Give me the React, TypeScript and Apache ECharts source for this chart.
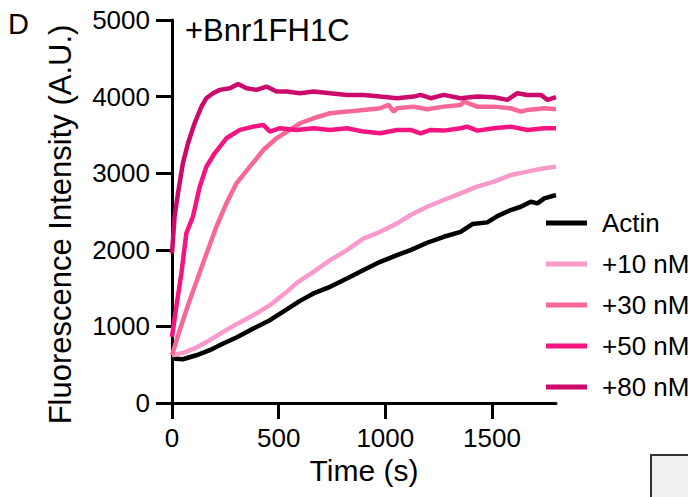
import React, { useEffect, useRef } from "react";
import * as echarts from "echarts";

const FONT = "'Liberation Sans', Arial, Helvetica, sans-serif";

const seriesNames = ["Actin", "+10 nM", "+30 nM", "+50 nM", "+80 nM"];
const seriesColors = ["#000000", "#FA9ACA", "#F76896", "#F51480", "#CC0A6B"];
const xTicks = [0, 500, 1000, 1500];

const actin = [
  [0, 580], [51, 571], [114, 623], [177, 689], [240, 776], [302, 855], [381, 972],
  [459, 1081], [538, 1221], [600, 1333], [663, 1430], [741, 1517], [820, 1626],
  [898, 1735], [976, 1843], [1055, 1931], [1118, 1996], [1196, 2092], [1274, 2170],
  [1353, 2235], [1408, 2336], [1478, 2358], [1525, 2440], [1588, 2519], [1635, 2562],
  [1682, 2628], [1713, 2606], [1745, 2672], [1800, 2715],
];

const nm10 = [
  [0, 624], [51, 654], [114, 724], [177, 820], [240, 928], [302, 1029], [381, 1146],
  [459, 1277], [538, 1451], [585, 1569], [663, 1713], [741, 1865], [820, 1996],
  [898, 2149], [976, 2235], [1055, 2345], [1118, 2454], [1196, 2562], [1274, 2650],
  [1353, 2737], [1431, 2824], [1509, 2889], [1588, 2976], [1666, 3020], [1745, 3064],
  [1800, 3085],
];

const nm30 = [
  [0, 624], [36, 950], [83, 1342], [145, 1822], [208, 2301], [255, 2606], [302, 2868],
  [365, 3085], [428, 3303], [490, 3456], [553, 3565], [600, 3652], [663, 3717],
  [741, 3783], [820, 3804], [898, 3826], [976, 3848], [1015, 3891], [1039, 3804],
  [1055, 3848], [1133, 3869], [1196, 3835], [1274, 3869], [1353, 3891], [1368, 3935],
  [1431, 3869], [1509, 3869], [1588, 3848], [1635, 3804], [1666, 3826], [1745, 3848],
  [1800, 3835],
];

const nm50 = [
  [0, 863], [20, 1255], [44, 1691], [67, 2214], [98, 2431], [130, 2824], [161, 3085],
  [200, 3260], [255, 3456], [318, 3565], [381, 3608], [428, 3630], [459, 3543],
  [506, 3587], [585, 3565], [663, 3587], [741, 3565], [820, 3587], [898, 3543],
  [976, 3521], [1055, 3565], [1118, 3565], [1165, 3521], [1212, 3565], [1274, 3556],
  [1353, 3587], [1384, 3608], [1431, 3556], [1509, 3587], [1588, 3608], [1666, 3565],
  [1745, 3587], [1800, 3587],
];

const nm80 = [
  [0, 1953], [12, 2431], [28, 2737], [51, 3129], [75, 3391], [106, 3652], [138, 3869],
  [161, 3979], [192, 4044], [224, 4088], [271, 4110], [310, 4166], [349, 4110],
  [396, 4088], [443, 4131], [490, 4066], [538, 4066], [600, 4044], [663, 4066],
  [741, 4044], [820, 4022], [898, 4022], [976, 4000], [1055, 3979], [1133, 4000],
  [1165, 4022], [1212, 3979], [1274, 4022], [1353, 3979], [1431, 4000], [1509, 3992],
  [1572, 3957], [1619, 4044], [1666, 4022], [1729, 4022], [1760, 3957], [1800, 3992],
];

const seriesData = [actin, nm10, nm30, nm50, nm80];

export default function App() {
  const ref = useRef<HTMLDivElement>(null);
  useEffect(() => {
    if (!ref.current) return;
    const chart = echarts.init(ref.current, undefined, { renderer: "svg" });
    chart.setOption({
      animation: false,
      backgroundColor: "#ffffff",
      textStyle: { fontFamily: FONT },
      grid: { left: 172, right: 132, top: 20, bottom: 94, containLabel: false },
      xAxis: {
        type: "value",
        min: 0,
        max: 1800,
        interval: 500,
        name: "Time (s)",
        nameLocation: "middle",
        nameGap: 51,
        nameTextStyle: { fontSize: 30, color: "#000", fontFamily: FONT },
        axisLine: { show: true, onZero: false, lineStyle: { color: "#000", width: 3 } },
        axisTick: { show: true, length: 16, inside: false, lineStyle: { color: "#000", width: 3 }, customValues: xTicks },
        axisLabel: { fontSize: 26, color: "#000", margin: 22, fontFamily: FONT, customValues: xTicks, formatter: (v: number) => String(v) },
        splitLine: { show: false },
      },
      yAxis: {
        type: "value",
        min: 0,
        max: 5000,
        interval: 1000,
        name: "Fluorescence Intensity (A.U.)",
        nameLocation: "middle",
        nameGap: 96,
        nameTextStyle: { fontSize: 31, color: "#000", fontFamily: FONT, padding: [0, 26, 0, 0] },
        axisLine: { show: true, lineStyle: { color: "#000", width: 3 } },
        axisTick: { show: true, length: 16, inside: false, lineStyle: { color: "#000", width: 3 } },
        axisLabel: { fontSize: 26, color: "#000", margin: 22, fontFamily: FONT, formatter: (v: number) => String(v) },
        splitLine: { show: false },
      },
      legend: {
        orient: "vertical",
        left: 541,
        top: 205,
        itemWidth: 41,
        itemHeight: 5,
        itemGap: 15,
        icon: "rect",
        textStyle: { fontSize: 26, color: "#000", fontFamily: FONT, padding: [0, 0, 0, 10] },
        data: seriesNames,
      },
      graphic: [
        {
          type: "text",
          left: 8,
          top: 9,
          style: { text: "D", fontSize: 29, fill: "#000", fontFamily: FONT },
        },
        {
          type: "text",
          left: 185,
          top: 15,
          style: { text: "+Bnr1FH1C", fontSize: 31, fill: "#000", fontFamily: FONT },
        },
        {
          type: "rect",
          shape: { x: 651, y: 455, width: 50, height: 50 },
          style: { fill: "#f0f0f0", stroke: "#333", lineWidth: 2 },
        },
      ],
      series: seriesNames.map((n, i) => ({
        name: n,
        type: "line",
        data: seriesData[i],
        showSymbol: false,
        symbol: "none",
        color: seriesColors[i],
        lineStyle: { width: 4.5, color: seriesColors[i] },
      })),
    });
    return () => chart.dispose();
  }, []);
  return <div ref={ref} style={{ width: 688, height: 497, position: "absolute", left: 0, top: 0 }} />;
}
